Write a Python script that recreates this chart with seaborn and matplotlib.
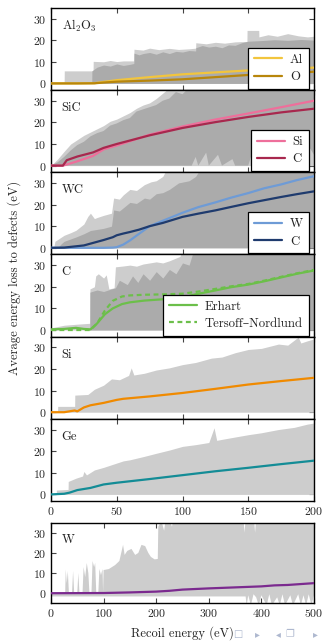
import numpy as np
import matplotlib
matplotlib.use('Agg')
import matplotlib.pyplot as plt
import seaborn as sns

# --- data (energies in eV, energy loss in eV) ---

# Al2O3
AL2O3_E = [0, 20, 33, 40, 50, 75, 100, 125, 150, 175, 200]
AL2O3_AL = [0, 0, 0.1, 0.7, 1.5, 2.9, 4.2, 5.1, 6.0, 6.6, 7.3]
AL2O3_O = [0, 0, 0.05, 0.4, 0.8, 1.3, 1.9, 2.9, 3.9, 4.6, 5.4]
AL2O3_MAX_E = [10, 10.1, 32, 32.1, 40, 45, 50, 55, 63, 63.1, 70, 75, 82, 90, 97, 105, 110,
               110.1, 118, 125, 132, 140, 149, 149.1, 158, 158.1, 165, 172, 180, 188, 195, 200]
AL2O3_MAX = [0, 5.8, 5.8, 10.2, 10.0, 10.6, 10.1, 10.4, 10.4, 15.8, 15.4, 16.3, 15.6, 16.2, 15.7,
             16.0, 16.3, 18.8, 18.3, 19.0, 18.6, 19.2, 19.4, 24.5, 24.5, 21.5, 22.5, 21.8, 23.0,
             22.0, 21.5, 21.8]
AL2O3_SPREAD_E = [31, 31.1, 35, 40, 45, 50, 55, 60, 63, 63.1, 67, 70, 75, 80, 85, 90, 95, 100,
                  105, 110, 110.1, 115, 120, 125, 130, 135, 140, 145, 150, 160, 170, 180, 190, 200]
AL2O3_SPREAD = [0, 5.8, 7.5, 8.5, 8.0, 9.0, 8.3, 8.8, 9.2, 14.0, 13.2, 13.8, 14.3, 13.5, 14.6,
                13.8, 14.8, 14.5, 15.2, 15.0, 16.5, 17.5, 16.8, 17.2, 16.5, 17.8, 17.6, 18.8, 19.5,
                19.8, 20.2, 19.9, 20.3, 20.0]

# SiC
SIC_E = [0, 9, 12, 20, 32, 40, 50, 75, 100, 125, 150, 175, 200]
SIC_SI = [0, 0, 0.5, 2.0, 4.5, 7.5, 9.3, 14.3, 18.1, 21.3, 24.1, 27.0, 30.0]
SIC_C = [0, 0, 2.5, 4.2, 6.1, 8.2, 10.0, 14.0, 17.4, 20.1, 22.5, 24.6, 26.3]
SIC_MAX_E = [0, 5, 10, 15, 20, 25, 30, 35, 40, 45, 50, 55, 60, 65, 70, 75, 80, 85, 90, 95, 200]
SIC_MAX = [0, 3, 6.6, 10, 12, 14, 15.5, 17, 18.5, 20.5, 21.5, 23, 24.5, 26.5, 28, 29, 31, 33.5,
           36, 40, 40]
SIC_SPREAD_E = [0, 5, 10, 15, 20, 25, 30, 35, 40, 45, 50, 55, 60, 65, 70, 75, 80, 85, 90, 95,
                100, 105, 110, 200]
SIC_SPREAD = [0, 1.5, 4, 7, 9.5, 11, 13.5, 15, 16, 18.5, 19.5, 21, 22, 25, 26, 27, 28, 30, 31,
              34, 33, 36, 40, 40]
SIC_SPREAD_LO_E = [0, 107, 110, 112, 118, 120, 127, 130, 138, 140, 150, 153, 156, 160, 163, 167,
                   170, 174, 178, 183, 186, 190, 194, 197, 200]
SIC_SPREAD_LO = [0, 0, 4, 0, 6, 0, 5, 0, 3, 0, 0, 6, 0, 7, 0, 8, 2, 7, 0, 8, 3, 7, 0, 8, 5]

# WC
WC_E = [0, 10, 25, 40, 47, 50, 55, 60, 67, 75, 85, 100, 112, 125, 137, 150, 162, 175, 187, 200]
WC_W = [0, 0, 0, 0, 0.1, 0.3, 1.5, 3.4, 6.5, 10, 12.5, 16.2, 18.8, 21.0, 23.2, 25.3, 27.5,
        29.3, 31.3, 33.1]
WC_C = [0, 0.1, 1.1, 3.6, 4.9, 5.8, 6.6, 7.3, 8.4, 10, 11.5, 14.3, 15.8, 17.3, 18.9, 20.6,
        22.0, 23.5, 24.8, 26.1]
WC_MAX_E = [0, 2, 3, 10, 15, 19, 25, 28, 30, 33, 35, 40, 46, 47.6, 52, 55, 60, 65, 71, 76,
            80, 85, 91, 200]
WC_MAX = [0, 0, 3, 5.8, 7.0, 8.1, 11, 14.5, 16, 13.5, 14, 15, 16, 23, 22.5, 24.5, 27, 26.5,
          29.2, 30.5, 31, 33, 40, 40]
WC_SPREAD_E = [0, 5, 8, 10, 19, 25, 30, 35, 40, 46, 47.6, 52, 55, 60, 65, 71, 75, 80, 85, 90,
               97, 105, 110, 117, 200]
WC_SPREAD = [0, 0, 2, 3, 5, 6.5, 8, 8.5, 9, 10, 17.5, 17.0, 18.5, 21, 20.5, 23, 22.5, 25, 25.5,
             27, 30, 31, 33, 40, 40]

# C
C_E = [0, 10, 19, 25, 30, 35, 41, 47, 54, 60, 71, 87, 100, 110, 125, 137, 150, 162, 175, 187, 200]
C_ERHART = [0.3, 0.5, 1.0, 0.5, 0.3, 3.0, 7.3, 10.0, 12.0, 12.8, 13.6, 14.3, 15.0, 16.5, 18.3,
            19.8, 21.0, 22.5, 24.3, 26.0, 27.5]
C_TN = [0, 0, 0, 0, 0, 3.0, 9.0, 13.5, 15.5, 16.0, 16.3, 16.5, 16.8, 17.6, 19.0, 20.2, 21.3,
        22.8, 24.6, 26.2, 27.8]
C_MAX_E = [0, 10, 20, 29.5, 29.6, 33, 34, 36, 40, 42, 44, 48, 49, 55, 60, 65, 70, 75, 80, 85,
           90, 98, 102, 200]
C_MAX = [1, 2.2, 2.7, 3.1, 19, 20, 25, 26, 24, 25.5, 19, 19.5, 29.2, 29.6, 30, 29.5, 30.5, 31,
         31.5, 31, 32, 34, 40, 40]
C_SPREAD_E = [0, 29.5, 29.6, 35, 40, 45, 49, 52, 58, 62, 66, 70, 75, 80, 85, 90, 95, 100, 105,
              110, 200]
C_SPREAD = [0, 0, 17.5, 18.5, 17.8, 18.8, 19.5, 23, 21, 25, 22, 26, 23, 27, 24, 28, 26, 31, 30,
            40, 40]

# Si
SI_E = [0, 10, 15, 18, 20, 25, 30, 40, 50, 55, 75, 100, 125, 150, 175, 200]
SI_SI = [0, 0, 0.5, 0.8, 0.4, 2.2, 3.2, 4.3, 5.7, 6.2, 7.3, 8.9, 10.8, 12.8, 14.4, 15.9]
SI_MAX_E = [5, 5.1, 18, 18.1, 28, 33, 40, 46, 52, 59, 61, 63, 71, 80, 90, 100, 110, 122, 130,
            140, 150, 160, 173, 180, 188, 190, 195, 200]
SI_MAX = [0, 2.7, 2.7, 7.9, 8.2, 10.6, 12.5, 15.4, 15.0, 17.0, 20.5, 17.2, 18.0, 19.5, 20.5,
          22.0, 23.0, 25.0, 25.5, 27.5, 29.0, 29.5, 31.5, 31.0, 34.7, 32.0, 33.0, 33.9]

# Ge
GE_E = [0, 10, 14, 20, 30, 40, 50, 75, 100, 125, 150, 175, 200]
GE_GE = [0, 0.3, 0.8, 2.0, 3.0, 4.6, 5.4, 7.1, 8.9, 10.7, 12.3, 14.0, 15.6]
GE_MAX_E = [4, 4.1, 13, 13.1, 19, 24, 25, 27, 33, 40, 46, 55, 60, 71, 80, 90, 100, 110, 120,
            124, 126, 135, 150, 160, 173, 185, 195, 200]
GE_MAX = [0, 2.0, 2.3, 6.0, 7.5, 8.5, 10.6, 9.0, 11.3, 12.5, 13.7, 15.5, 16.0, 17.6, 19.0, 20.5,
          22.2, 23.0, 24.0, 30.8, 25.0, 26.0, 27.6, 28.5, 30.0, 31.0, 32.5, 33.0]

# W
W_E = [0, 100, 150, 200, 225, 250, 300, 350, 400, 425, 450, 500]
W_W = [0, 0.1, 0.4, 0.8, 1.2, 1.8, 2.4, 2.9, 3.4, 3.9, 4.1, 5.0]
W_MAX_E = [0, 27, 28, 30, 32, 34, 40, 42, 44, 50, 52, 54, 60, 62, 65, 68, 71, 73, 77, 79, 82,
           84, 86, 90, 92, 95, 98, 99, 100, 110, 122, 130, 137, 140, 145, 153, 160, 166, 172,
           179, 185, 190, 197, 203, 204, 210, 215, 220, 230, 235, 240, 250, 255, 260, 365, 368,
           371, 385, 388, 391, 500]
W_MAX = [0.5, 0.5, 11.8, 5, 11, 0.5, 0.5, 11, 0.5, 0.5, 10, 0.5, 0.5, 13, 8, 15, 10, 0.5, 0.5,
         16, 13, 15, 0.5, 0.5, 12, 9, 12, 0.5, 11.5, 12, 14, 16, 24, 19, 21, 22, 19, 20, 24,
         23.4, 20, 18, 16.8, 17, 33, 36, 31, 40, 33, 40, 35, 40, 38, 40, 40, 30, 40, 40, 30, 40,
         40]
W_MIN_E = [0, 370, 372, 375, 380, 385, 390, 395, 400, 410, 415, 420, 430, 435, 440, 445, 455,
           460, 470, 475, 480, 485, 490, 495, 500]
W_MIN = [-1.6, -1.6, -6, -1, -6, -0.5, -2, -6, -1, -6, -0.5, -6, -2, -6, -0.5, -6, -1, -6, -0.5,
         -6, -1, -6, -0.5, -6, -1]

LIGHT = '#CDCDCD'
DARK = '#ABABAB'
PANEL_H = 82.2 / 641


def set_style():
    sns.set_theme(style='ticks')
    plt.rcParams['font.family'] = ['cmr10', 'DejaVu Serif']
    plt.rcParams['mathtext.fontset'] = 'cm'
    plt.rcParams['axes.formatter.use_mathtext'] = True
    plt.rcParams['font.size'] = 8.5
    plt.rcParams['axes.edgecolor'] = 'black'
    plt.rcParams['axes.linewidth'] = 1.0
    plt.rcParams['text.color'] = '#222222'


def band(ax, x_hi, y_hi, x_lo=None, y_lo=None, color=LIGHT):
    if x_lo is None:
        ax.fill_between(x_hi, 0, y_hi, color=color, lw=0, zorder=1)
    else:
        xs = list(x_hi) + list(x_lo)[::-1]
        ys = list(y_hi) + list(y_lo)[::-1]
        ax.fill(xs, ys, color=color, lw=0, zorder=1)


def line(ax, x, y, color, label=None, ls='-'):
    sns.lineplot(x=x, y=y, ax=ax, color=color, linewidth=1.6, label=label,
                 linestyle=ls, sort=False, estimator=None, zorder=3, legend=False)


def finish(ax, name, xmax, xticks, ylim, labels=False, legend=None):
    ax.set_xlim(0, xmax)
    ax.set_ylim(*ylim)
    ax.set_xticks(xticks)
    ax.set_yticks([0, 10, 20, 30])
    ax.tick_params(direction='in', top=True, right=True, length=3.5, width=0.8,
                   labelsize=8.5, color='#444444', pad=3, labelbottom=labels)
    ax.set_xlabel('')
    ax.set_ylabel('')
    ax.text(0.04, 0.78, name, transform=ax.transAxes, fontsize=9, va='center', zorder=5)
    if legend is not None:
        leg = ax.legend(loc='lower right', bbox_to_anchor=(0.98, 0.012), frameon=True,
                        fancybox=False, edgecolor='black', framealpha=1, fontsize=9.2,
                        handlelength=2.2, borderpad=0.45, labelspacing=0.4,
                        handletextpad=0.6, borderaxespad=0.0)
        leg.get_frame().set_linewidth(0.9)
        leg.set_zorder(6)


def main():
    set_style()
    fig = plt.figure(figsize=(3.26, 6.41), dpi=100)
    left, width = 51 / 326, 263 / 326
    axes = []
    for i in range(6):
        bottom = 1 - (7.7 + (i + 1) * 82.2) / 641
        axes.append(fig.add_axes([left, bottom, width, PANEL_H]))
    ax_w = fig.add_axes([left, 1 - 603.3 / 641, width, 80.6 / 641])

    x200 = [0, 50, 100, 150, 200]
    ylim = (-3, 35)

    ax = axes[0]
    band(ax, AL2O3_MAX_E, AL2O3_MAX, color=LIGHT)
    band(ax, AL2O3_SPREAD_E, AL2O3_SPREAD, color=DARK)
    line(ax, AL2O3_E, AL2O3_AL, '#F2C53D', 'Al')
    line(ax, AL2O3_E, AL2O3_O, '#B8860B', 'O')
    finish(ax, r'Al$_2$O$_3$', 200, x200, ylim, legend=True)

    ax = axes[1]
    band(ax, SIC_MAX_E, SIC_MAX, color=LIGHT)
    band(ax, SIC_SPREAD_E, SIC_SPREAD, SIC_SPREAD_LO_E, SIC_SPREAD_LO, color=DARK)
    line(ax, SIC_E, SIC_SI, '#EE6F9B', 'Si')
    line(ax, SIC_E, SIC_C, '#A8284E', 'C')
    finish(ax, 'SiC', 200, x200, ylim, legend=True)

    ax = axes[2]
    band(ax, WC_MAX_E, WC_MAX, color=LIGHT)
    band(ax, WC_SPREAD_E, WC_SPREAD, color=DARK)
    line(ax, WC_E, WC_W, '#6E9BD6', 'W')
    line(ax, WC_E, WC_C, '#1F3B6E', 'C')
    finish(ax, 'WC', 200, x200, ylim, legend=True)

    ax = axes[3]
    band(ax, C_MAX_E, C_MAX, color=LIGHT)
    band(ax, C_SPREAD_E, C_SPREAD, color=DARK)
    line(ax, C_E, C_ERHART, '#6CBF4A', 'Erhart')
    line(ax, C_E, C_TN, '#6CBF4A', 'Tersoff\u2013Nordlund', ls=(0, (2.2, 1.6)))
    finish(ax, 'C', 200, x200, ylim, legend=True)

    ax = axes[4]
    band(ax, SI_MAX_E, SI_MAX, color=LIGHT)
    line(ax, SI_E, SI_SI, '#F08A00')
    finish(ax, 'Si', 200, x200, ylim)

    ax = axes[5]
    band(ax, GE_MAX_E, GE_MAX, color=LIGHT)
    line(ax, GE_E, GE_GE, '#138C96')
    finish(ax, 'Ge', 200, x200, ylim, labels=True)

    ax = ax_w
    band(ax, W_MAX_E, W_MAX, W_MIN_E, W_MIN, color=LIGHT)
    line(ax, W_E, W_W, '#7B2A8F')
    finish(ax, 'W', 500, [0, 100, 200, 300, 400, 500], (-5, 35), labels=True)

    fig.text(0.043, 0.566, 'Average energy loss to defects (eV)', rotation=90,
             ha='center', va='center', fontsize=9)
    fig.text(0.559, 0.0125, 'Recoil energy (eV)', ha='center', va='center', fontsize=9)

    # beamer navigation symbols
    nav = [('\u25a1', 238), ('\u25b8', 257), ('\u25c2', 278), ('\u2750', 290), ('\u25b8', 315)]
    for sym, xp in nav:
        fig.text(xp / 326, 1 - 634 / 641, sym, ha='center', va='center', fontsize=7,
                 color='#AEB8CF', family='DejaVu Sans')

    fig.savefig('out.png', dpi=100)
    plt.close(fig)


if __name__ == '__main__':
    main()
